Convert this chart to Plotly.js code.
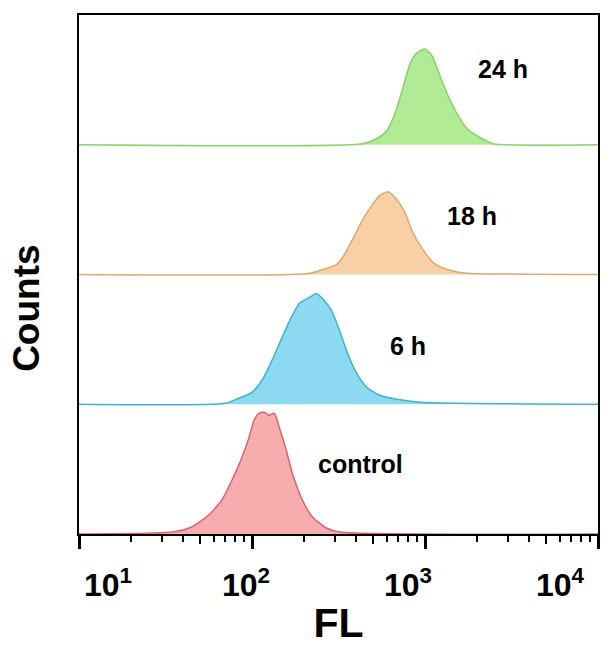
<!DOCTYPE html>
<html>
<head>
<meta charset="utf-8">
<script src="https://cdn.plot.ly/plotly-3.0.1.min.js"></script>
<style>
  html, body { margin: 0; padding: 0; background: #fff; }
  #chart { width: 613px; height: 646px; }
</style>
</head>
<body>
<div id="chart"></div>
<script>
// ---- Data (fluorescence intensity FL, normalized counts) ----
var seriesNames = ["control", "6 h", "18 h", "24 h"];

var controlFL = [10, 34.3, 44.8, 56.2, 67.0, 76.6, 87.5, 96.2, 102.8, 109.9, 117.5, 125.6, 134.3, 143.6, 157.8, 171.0, 195.4, 223.4, 269.2, 320.6, 10000];
var controlCounts = [0, 0.015, 0.054, 0.146, 0.262, 0.415, 0.592, 0.746, 0.877, 0.931, 0.938, 0.915, 0.931, 0.823, 0.646, 0.469, 0.262, 0.131, 0.046, 0.015, 0];

var h6FL = [10, 70.6, 83.9, 100.0, 114.3, 130.6, 149.3, 168.7, 187.5, 214.3, 235.5, 255.3, 287.7, 320.6, 356.5, 402.7, 460.3, 547.0, 687.1, 935.4, 10000];
var h6Counts = [0, 0.008, 0.046, 0.092, 0.185, 0.338, 0.515, 0.669, 0.777, 0.823, 0.854, 0.815, 0.723, 0.569, 0.392, 0.238, 0.131, 0.069, 0.038, 0.015, 0];

var h18FL = [10, 214.3, 255.3, 307.6, 333.4, 381.1, 436.5, 492.0, 547.0, 609.5, 687.1, 765.6, 851.1, 972.8, 1114.3, 1343.4, 1596.0, 1828.0, 10000];
var h18Counts = [0, 0.008, 0.038, 0.077, 0.131, 0.269, 0.423, 0.531, 0.608, 0.638, 0.577, 0.477, 0.323, 0.192, 0.092, 0.038, 0.015, 0.008, 0];

var h24FL = [10, 436.5, 526.0, 601.2, 669.9, 744.7, 818.5, 897.5, 1000, 1099.0, 1191.2, 1343.4, 1534.6, 1753.9, 2089.3, 2483.1, 10000];
var h24Counts = [0, 0.008, 0.046, 0.108, 0.238, 0.438, 0.623, 0.708, 0.738, 0.685, 0.569, 0.392, 0.238, 0.123, 0.054, 0.008, 0];

var majorTicks = [10, 100, 1000, 10000];
var midTicks = [50, 500, 5000];
var minorTicks = [20, 30, 40, 60, 70, 80, 90, 200, 300, 400, 600, 700, 800, 900, 2000, 3000, 4000, 6000, 7000, 8000, 9000];
var tickLabels = ["10<sup>1</sup>", "10<sup>2</sup>", "10<sup>3</sup>", "10<sup>4</sup>"];

// ---- Styles ----
var fillColors = ["rgba(246,158,160,0.85)", "rgba(128,214,240,0.9)", "rgba(248,202,156,0.9)", "rgba(166,234,138,0.9)"];
var lineColors = ["#d8656c", "#3fb3c9", "#d9aa72", "#8cd06e"];
var FONT = "Arial, 'Liberation Sans', Helvetica, sans-serif";

var xs = [controlFL, h6FL, h18FL, h24FL];
var ys = [controlCounts, h6Counts, h18Counts, h24Counts];

var traces = [];
for (var i = 0; i < 4; i++) {
  var off = i; // stacking band
  traces.push({
    type: "scatter",
    mode: "lines",
    name: seriesNames[i],
    x: xs[i],
    y: ys[i].map(function (v) { return v + off; }),
    fill: "toself",
    fillcolor: fillColors[i],
    line: { color: lineColors[i], width: 1.5, shape: "spline", smoothing: 0.6 },
    hoverinfo: "skip",
    showlegend: false
  });
}
// carrier trace for the mid-length (5x) ticks axis
traces.push({
  type: "scatter", mode: "markers", x: [10], y: [0], xaxis: "x2",
  marker: { size: 1, color: "rgba(0,0,0,0)" }, hoverinfo: "skip", showlegend: false
});

var annotations = [];
var labelPos = [0.056, 0.322, 0.634, 0.927];
for (var k = 0; k < tickLabels.length; k++) {
  annotations.push({
    text: "<b>" + tickLabels[k] + "</b>", xref: "paper", yref: "paper",
    x: labelPos[k], y: -0.094, xanchor: "center", yanchor: "middle",
    showarrow: false, font: { family: FONT, size: 32, color: "#000" }
  });
}
var seriesLabelPos = [[0.542, 0.135], [0.634, 0.363], [0.757, 0.613], [0.817, 0.896]];
for (var j = 0; j < 4; j++) {
  annotations.push({
    text: "<b>" + seriesNames[j] + "</b>", xref: "paper", yref: "paper",
    x: seriesLabelPos[j][0], y: seriesLabelPos[j][1], xanchor: "center", yanchor: "middle",
    showarrow: false, font: { family: FONT, size: 25, color: "#000" }
  });
}
annotations.push({
  text: "<b>Counts</b>", xref: "paper", yref: "paper", x: -0.10, y: 0.434,
  xanchor: "center", yanchor: "middle", textangle: -90, showarrow: false,
  font: { family: FONT, size: 37, color: "#000" }
});

var layout = {
  width: 613, height: 646,
  margin: { l: 79, r: 15, t: 15, b: 112 },
  paper_bgcolor: "#fff", plot_bgcolor: "#fff",
  showlegend: false,
  xaxis: {
    type: "log", range: [1, 4],
    tickmode: "array", tickvals: majorTicks, showticklabels: false,
    ticks: "outside", ticklen: 13, tickwidth: 3, tickcolor: "#000",
    minor: { tickmode: "array", tickvals: minorTicks, ticks: "outside", ticklen: 6, tickwidth: 2, tickcolor: "#000", showgrid: false },
    showline: true, linecolor: "#000", linewidth: 2, mirror: true,
    showgrid: false, zeroline: false,
    title: { text: "<b>FL</b>", font: { family: FONT, size: 41, color: "#000" }, standoff: 62 }
  },
  xaxis2: {
    type: "log", range: [1, 4], overlaying: "x", anchor: "y", side: "bottom",
    tickmode: "array", tickvals: midTicks, showticklabels: false,
    ticks: "outside", ticklen: 9, tickwidth: 2, tickcolor: "#000",
    showline: false, showgrid: false, zeroline: false
  },
  yaxis: {
    range: [0, 4], showticklabels: false, ticks: "",
    showline: true, linecolor: "#000", linewidth: 2, mirror: true,
    showgrid: false, zeroline: false
  },
  annotations: annotations
};

Plotly.newPlot("chart", traces, layout, { displayModeBar: false, staticPlot: true });
</script>
</body>
</html>
